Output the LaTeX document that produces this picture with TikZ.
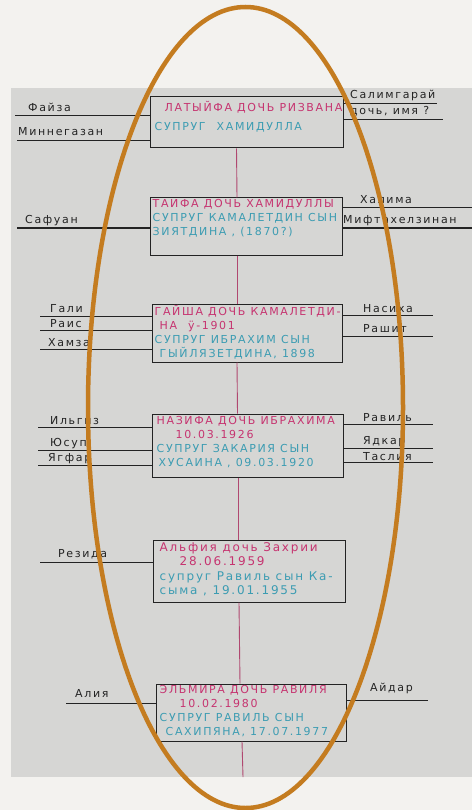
\documentclass[tikz,border=0pt]{standalone}
\usepackage{fontspec}
\setmainfont{DejaVu Sans}[LetterSpace=15]
\usetikzlibrary{positioning}

\definecolor{backdrop}{RGB}{243,242,239}
\definecolor{paper}{RGB}{214,214,212}
\definecolor{ink}{RGB}{35,35,35}
\definecolor{namepink}{RGB}{198,52,112}
\definecolor{spouseteal}{RGB}{60,156,178}
\definecolor{stempink}{RGB}{176,72,112}
\definecolor{ring}{RGB}{196,124,32}

\tikzset{
  famrow/.style={draw=ink, line width=1pt, inner sep=0pt},
  boxtxt/.style={anchor=north west, align=left, inner sep=0pt, font=\fontsize{11}{14}\selectfont},
  lbl/.style={anchor=base west, inner sep=0pt, text=ink, font=\fontsize{11}{12}\selectfont},
  rel/.style={draw=ink, line width=1pt},
  stem/.style={draw=stempink, line width=0.9pt}
}

\begin{document}
\begin{tikzpicture}[x=1pt,y=-1pt]
\useasboundingbox (0,0) rectangle (472,810);
\fill[backdrop] (0,0) rectangle (472,810);
\fill[paper] (11,88) rectangle (472,777);

% family boxes
\node[famrow, minimum width=193, minimum height=51] (b1) at (246.5,122.5) {};
\node[famrow, minimum width=192, minimum height=57] (b2) at (246,226.5) {};
\node[famrow, minimum width=190, minimum height=58] (b3) at (247,333) {};
\node[famrow, minimum width=191, minimum height=63] (b4) at (247.5,445.5) {};
\node[famrow, minimum width=192, minimum height=62] (b5) at (249,571) {};
\node[famrow, minimum width=190, minimum height=57] (b6) at (251,712.5) {};

\node[boxtxt] (t1) at ([shift={(5,5)}]b1.north west)
  {\hspace*{10pt}\textcolor{namepink}{ЛАТЫЙФА ДОЧЬ РИЗВАНА}\\[5pt]
   \textcolor{spouseteal}{СУПРУГ\quad ХАМИДУЛЛА}};
\node[boxtxt] (t2) at ([shift={(3,2)}]b2.north west)
  {\textcolor{namepink}{ТАИФА  ДОЧЬ ХАМИДУЛЛЫ}\\
   \textcolor{spouseteal}{СУПРУГ КАМАЛЕТДИН СЫН}\\
   \textcolor{spouseteal}{ЗИЯТДИНА , (1870?)}};
\node[boxtxt] (t3) at ([shift={(3,2)}]b3.north west)
  {\textcolor{namepink}{ГАЙША ДОЧЬ КАМАЛЕТДИ-}\\
   \hspace*{5pt}\textcolor{namepink}{НА\quad ӱ-1901}\\
   \textcolor{spouseteal}{СУПРУГ ИБРАХИМ СЫН}\\
   \hspace*{5pt}\textcolor{spouseteal}{ГЫЙЛЯЗЕТДИНА, 1898}};
\node[boxtxt] (t4) at ([shift={(5,3)}]b4.north west)
  {\textcolor{namepink}{НАЗИФА ДОЧЬ ИБРАХИМА}\\
   \hspace*{19pt}\textcolor{namepink}{10.03.1926}\\
   \textcolor{spouseteal}{СУПРУГ ЗАКАРИЯ СЫН}\\
   \hspace*{2pt}\textcolor{spouseteal}{ХУСАИНА , 09.03.1920}};
\node[boxtxt, font=\fontsize{12}{14.3}\selectfont] (t5) at ([shift={(7,3)}]b5.north west)
  {\textcolor{namepink}{Альфия дочь Захрии}\\
   \hspace*{20pt}\textcolor{namepink}{28.06.1959}\\
   \textcolor{spouseteal}{супруг Равиль сын Ка-}\\
   \textcolor{spouseteal}{сыма , 19.01.1955}};
\node[boxtxt] (t6) at ([shift={(4,2)}]b6.north west)
  {\textcolor{namepink}{ЭЛЬМИРА ДОЧЬ РАВИЛЯ}\\
   \hspace*{20pt}\textcolor{namepink}{10.02.1980}\\
   \textcolor{spouseteal}{СУПРУГ РАВИЛЬ СЫН}\\
   \hspace*{6pt}\textcolor{spouseteal}{САХИПЯНА, 17.07.1977}};

% line of descent
\coordinate (stemend) at (243,777);
\draw[stem] ([xshift=-10]b1.south) -- ([xshift=-9]b2.north);
\draw[stem] ([xshift=-9]b2.south) -- ([xshift=-10]b3.north);
\draw[stem] ([xshift=-10]b3.south) -- ([xshift=-10]b4.north);
\draw[stem] ([xshift=-9.5]b4.south) -- ([xshift=-11]b5.north);
\draw[stem] ([xshift=-10]b5.south) -- ([xshift=-11]b6.north);
\draw[stem] ([xshift=-9]b6.south) -- (stemend);

% siblings, row 1
\coordinate (faiza-e) at (15,116);
\coordinate (minnegazan-e) at (17,141);
\coordinate (salim-e) at (437,104);
\coordinate (doch-e) at (443,120);
\draw[rel] (faiza-e) -- (faiza-e -| b1.west);
\draw[rel] (minnegazan-e) -- (minnegazan-e -| b1.west);
\draw[rel] (salim-e -| b1.east) -- (salim-e);
\draw[rel] (doch-e -| b1.east) -- (doch-e);
\node[lbl] (faiza) at (28,112) {Файза};
\node[lbl] (minnegazan) at (18,136) {Миннегазан};
\node[lbl] (salim) at (350,99) {Салимгарай};
\node[lbl] (doch) at (350,115) {дочь, имя ?};

% row 2
\coordinate (safuan-e) at (17,228);
\coordinate (halima-e) at (472,208);
\coordinate (miftah-e) at (472,228);
\draw[rel] (safuan-e) -- (safuan-e -| b2.west);
\draw[rel] (halima-e -| b2.east) -- (halima-e);
\draw[rel] (miftah-e -| b2.east) -- (miftah-e);
\node[lbl] (safuan) at (25,224) {Сафуан};
\node[lbl] (halima) at (360,204) {Халима};
\node[lbl] (miftah) at (343,223) {Мифтахелзинан};

% row 3
\coordinate (gali-e) at (40,316);
\coordinate (rais-e) at (40,330);
\coordinate (hamza-e) at (40,349);
\coordinate (nasiha-e) at (433,315);
\coordinate (rashit-e) at (433,336);
\draw[rel] (gali-e) -- (gali-e -| b3.west);
\draw[rel] (rais-e) -- (rais-e -| b3.west);
\draw[rel] (hamza-e) -- (hamza-e -| b3.west);
\draw[rel] (nasiha-e -| b3.east) -- (nasiha-e);
\draw[rel] (rashit-e -| b3.east) -- (rashit-e);
\node[lbl] (gali) at (50,312) {Гали};
\node[lbl] (rais) at (50,327) {Раис};
\node[lbl] (hamza) at (48,346) {Хамза};
\node[lbl] (nasiha) at (363,312) {Насиха};
\node[lbl] (rashit) at (363,332) {Рашит};

% row 4
\coordinate (ilgiz-e) at (38,427);
\coordinate (yusup-e) at (38,450);
\coordinate (yagfar-e) at (38,465);
\coordinate (ravil-e) at (433,424);
\coordinate (yadkar-e) at (433,448);
\coordinate (tasliya-e) at (433,462);
\draw[rel] (ilgiz-e) -- (ilgiz-e -| b4.west);
\draw[rel] (yusup-e) -- (yusup-e -| b4.west);
\draw[rel] (yagfar-e) -- (yagfar-e -| b4.west);
\draw[rel] (ravil-e -| b4.east) -- (ravil-e);
\draw[rel] (yadkar-e -| b4.east) -- (yadkar-e);
\draw[rel] (tasliya-e -| b4.east) -- (tasliya-e);
\node[lbl] (ilgiz) at (50,424) {Ильгиз};
\node[lbl] (yusup) at (50,446) {Юсуп};
\node[lbl] (yagfar) at (48,461) {Ягфар};
\node[lbl] (ravil) at (363,421) {Равиль};
\node[lbl] (yadkar) at (363,444) {Ядкар};
\node[lbl] (tasliya) at (363,460) {Таслия};

% row 5
\coordinate (rezida-e) at (40,562);
\draw[rel] (rezida-e) -- (rezida-e -| b5.west);
\node[lbl] (rezida) at (58,557) {Резида};

% row 6
\coordinate (aliya-e) at (66,703);
\coordinate (aidar-e) at (428,700);
\draw[rel] (aliya-e) -- (aliya-e -| b6.west);
\draw[rel] (aidar-e -| b6.east) -- (aidar-e);
\node[lbl] (aliya) at (75,697) {Алия};
\node[lbl] (aidar) at (370,691) {Айдар};

% marker ring
\draw[ring, line width=4.5] (245.5,407.5) ellipse [x radius=157.5, y radius=400.5];
\end{tikzpicture}
\end{document}
